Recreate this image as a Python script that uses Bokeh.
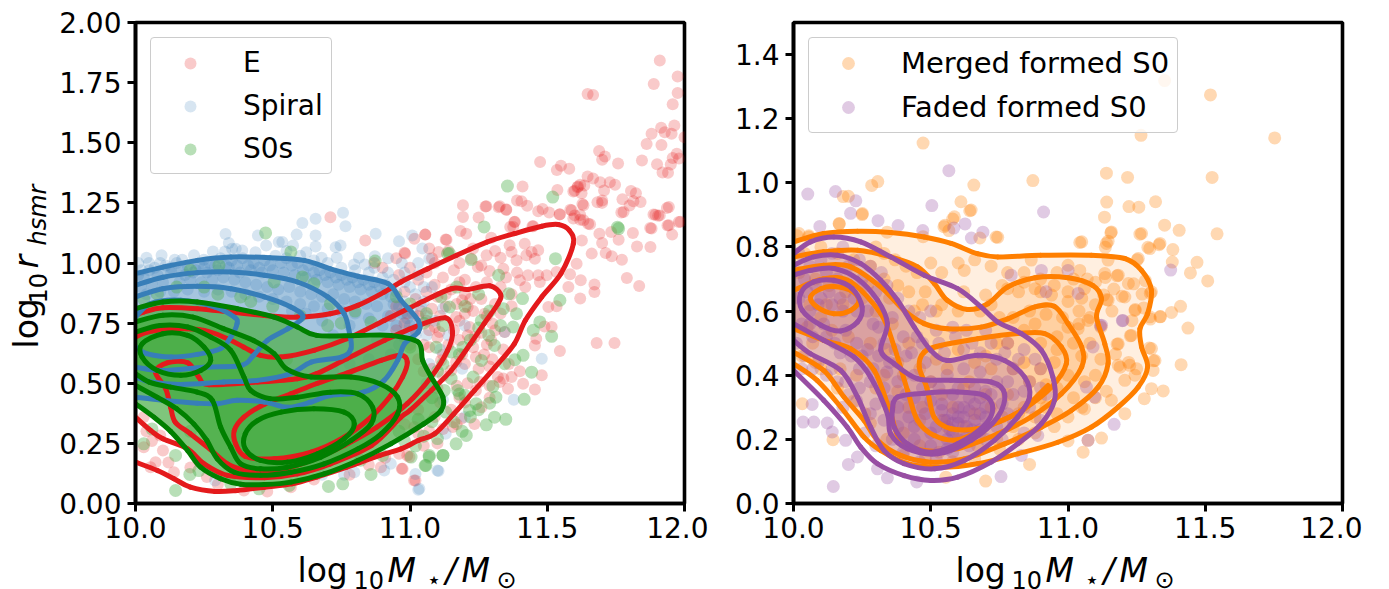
from bokeh.embed import file_html
from bokeh.resources import INLINE
from bokeh.layouts import column, row
from bokeh.models import ColumnDataSource, FixedTicker, Label, Legend, LegendItem, NumeralTickFormatter, Range1d
from bokeh.plotting import figure

E_pts = [(11.91,1.842),(11.975,1.775),(11.888,1.744),(11.975,1.707),(11.647,1.703),(11.667,1.699),(11.957,1.66),(11.963,1.572),(11.915,1.562),(11.88,1.537),(11.928,1.544),(11.953,1.537),(11.862,1.495),(11.916,1.491),(12.0,1.523),(11.689,1.466),(11.71,1.443),(11.70,1.429),(11.758,1.414),(11.845,1.426),(11.9,1.411),(11.972,1.454),(11.957,1.437),(11.98,1.434),(11.95,1.41),(11.92,1.376),(11.94,1.375),(11.474,1.42),(11.55,1.404),(11.535,1.387),(11.58,1.392),(11.647,1.36),(11.667,1.351),(11.693,1.336),(11.728,1.336),(11.747,1.325),(11.707,1.301),(11.41,1.318),(11.537,1.304),(11.61,1.315),(11.62,1.325),(11.60,1.30),(11.612,1.318),(11.625,1.29),(11.595,1.297),(11.635,1.322),(11.805,1.299),(11.823,1.29),(11.774,1.265),(11.814,1.257),(11.84,1.254),(11.80,1.239),(11.683,1.253),(11.70,1.26),(11.628,1.245),(11.936,1.229),(11.77,1.21),(11.275,1.235),(11.323,1.232),(11.35,1.221),(11.39,1.26),(11.406,1.257),(11.427,1.238),(11.467,1.215),(11.483,1.225),(11.507,1.21),(11.545,1.202),(11.584,1.221),(11.62,1.20),(11.595,1.185),(11.62,1.18),(11.649,1.163),(11.38,1.17),(11.365,1.15),(11.446,1.153),(11.887,1.202),(11.904,1.196),(11.938,1.156),(11.979,1.17),(11.875,1.146),
(11.193,1.24),(11.278,1.236),(11.327,1.236),(11.351,1.222),(11.193,1.191),(11.25,1.189),(11.382,1.171),(11.376,1.15),(11.449,1.153),(11.184,1.133),(11.205,1.122),(11.296,1.105),(11.133,1.097),(11.055,1.118),(11.418,1.08),(11.363,1.074),(11.37,1.046),(11.388,1.011),(11.424,1.032),(11.443,1.046),(11.467,1.053),(11.455,1.018),(11.33,1.022),(11.279,1.032),(11.247,.983),(11.29,.967),(11.34,.976),(11.223,1.018),(11.104,1.046),(11.07,1.06),(10.982,1.039),(11.43,.949),(11.4,.928),(11.467,.949),(11.498,.949),(11.473,.921),(11.534,.963),(11.583,.953),(11.607,.997),(11.622,.928),(11.577,.90),(11.672,.911),(11.672,.879),(11.62,.852),(11.504,.817),(11.534,.82),(11.79,.938),(11.835,.904),(11.876,1.067),(11.827,1.069),(11.772,1.014),(11.735,1.028),(11.713,1.042),(11.70,1.083),(11.69,1.122),(11.76,1.097),(11.733,1.129),(11.812,1.125),(11.662,1.039),(11.656,1.161),(11.626,1.094),(11.632,1.178),(11.60,1.198),(11.546,1.203),(11.778,1.212),(11.943,1.233),(11.985,1.171),(11.894,1.201),(11.91,1.198),(11.943,1.157),(11.955,1.118),(11.88,1.143),(11.632,1.24),(11.589,1.219),(11.70,1.25),
(11.68,.667),(11.745,.667),(11.546,.634),(11.516,.734),(11.49,.736),(11.455,.657),(11.46,.685),(11.48,.533),(11.455,.474),(11.412,.498),(11.37,.526),(11.357,.477),(11.296,.678),(11.345,.713),(11.30,.748),(11.272,.789),(11.2,.789),(11.21,.817),(11.168,.775),(11.09,.734),(11.07,.72),(11.107,.713),(11.18,.76),(11.217,.734),(11.235,.692),(11.24,.609),(11.168,.588),(11.15,.553),(11.113,.595),(11.32,.526),(11.327,.505),(11.254,.505),(11.187,.352),(11.156,.318),(11.235,.331),(11.02,.096),(10.973,.144),(10.99,.20),(11.03,.29),(11.19,.845),
(10.055,.151),(10.073,.172),(10.14,.13),(10.03,.234),(10.09,.283),(10.395,.054),(10.566,.068),(10.97,.144),(11.015,.096),(10.894,.151),(11.016,.318),(10.96,.207),(10.998,.193),(10.71,1.19),(10.837,1.094),(10.98,1.043),(11.016,1.101),(11.056,1.118),(11.13,1.098),(10.87,1.0),(10.9,.98),(10.95,1.02),(10.96,.95),(11.0,.98),(11.03,.93),(11.06,.96),(11.09,1.0),(11.12,.94),(11.16,.97),(11.2,.93),(11.24,.90),(11.28,.92),(11.33,.90),(11.37,.87),(11.31,.83),(11.26,.85),(11.2,.87),(11.15,.89),(11.1,.86),(11.06,.88),(11.02,.85),(10.98,.88),(10.95,.82),(10.99,.79),(11.04,.8),(11.08,.81),(11.13,.82),(11.06,.76),(11.1,.69),(11.14,.66),(11.18,.68),(11.02,.72),(11.05,.66),(11.12,.62),(11.2,.58),(11.27,.62),(11.29,.57),(11.21,.5),(11.18,.44),(11.1,.48),(11.15,.39),(11.09,.36),(11.03,.39),(10.98,.33),(11.05,.24),(11.1,.25),(10.91,.19),(10.85,.16),(10.78,.12),(10.65,.1),(10.12,.17),(10.2,.15),(10.26,.11),(10.3,.08),(10.04,.3),(10.06,.26),(10.03,.36),(10.1,.22),(10.48,.05),
(11.08,1.02),(11.14,1.05),(11.18,1.0),(11.23,1.06),(11.26,.99),(11.31,1.05),(11.35,.94),(11.39,.96),(11.42,.9),(11.37,.82),(11.33,.79),(11.28,.78),(11.23,.8),(11.17,.83),(11.11,.78),(11.16,.72),(11.21,.7),(11.26,.71),(11.31,.72),(11.28,.66),(11.23,.65),(11.19,.62),(11.25,.56),(11.3,.6),(11.34,.64),(11.36,.58),(11.4,.55),(11.34,.52),(11.29,.49),(11.24,.47),(11.2,.42),(11.26,.4),(11.29,.44),(11.17,.49),(11.12,.53),(11.08,.56),(11.03,.6),(11.0,.66),(10.95,.72),(10.93,.78),(10.98,.75),(11.03,.78),(11.09,.91),(11.13,.87),(11.18,.92),(11.22,.85),(11.07,.65),(11.05,.55),(11.11,.42),(11.17,.33),(11.12,.31),(11.07,.3)]

Spiral_pts = [(10.04,1.022),(10.095,1.032),(10.049,1.0),(10.143,1.014),(10.17,1.014),(10.213,1.032),(10.249,1.014),(10.282,1.048),(10.328,1.121),(10.34,1.083),(10.352,1.059),(10.365,1.059),(10.326,1.048),(10.389,1.052),(10.437,1.045),(10.446,1.114),(10.476,1.073),(10.522,1.087),(10.535,1.087),(10.587,1.118),(10.608,1.166),(10.656,1.184),(10.756,1.209),(10.765,1.153),(10.656,1.114),(10.574,1.073),(10.656,1.069),(10.622,1.045),(10.729,1.066),(10.747,1.073),(10.733,1.022),(10.678,1.022),(10.814,1.022),(10.796,.994),(10.836,.994),(10.875,1.122),(10.96,1.09),(11.008,1.114),(11.045,1.06),(11.07,1.018),(10.872,1.028),
(10.01,1.0),(10.02,.97),(10.07,.98),(10.11,.99),(10.15,1.0),(10.19,.99),(10.23,.995),(10.27,1.0),(10.31,1.02),(10.35,1.01),(10.39,1.02),(10.43,1.0),(10.47,1.01),(10.51,1.03),(10.55,1.02),(10.59,1.0),(10.63,.99),(10.67,.97),(10.71,.96),(10.75,.95),(10.79,.94),(10.83,.93),(10.87,.92),(10.91,.91),(10.95,.88),(10.98,.84),(11.01,.79),
(10.03,.94),(10.08,.95),(10.13,.96),(10.18,.95),(10.22,.97),(10.26,.96),(10.3,.97),(10.34,.98),(10.38,.96),(10.42,.97),(10.46,.96),(10.5,.97),(10.54,.96),(10.58,.95),(10.62,.94),(10.66,.93),(10.7,.92),(10.74,.91),(10.78,.9),(10.82,.89),(10.86,.88),(10.9,.87),(10.94,.83),(10.97,.79),(11.0,.74),(11.02,.7),
(10.02,.9),(10.06,.91),(10.1,.92),(10.16,.92),(10.2,.93),(10.24,.92),(10.28,.93),(10.32,.94),(10.36,.93),(10.4,.92),(10.44,.91),(10.48,.9),(10.52,.89),(10.56,.9),(10.6,.88),(10.64,.87),(10.68,.86),(10.72,.87),(10.76,.85),(10.8,.84),(10.84,.83),(10.88,.82),(10.92,.78),(10.95,.74),(10.98,.69),(10.96,.66),
(10.04,.87),(10.09,.88),(10.14,.88),(10.19,.89),(10.25,.88),(10.3,.89),(10.35,.88),(10.4,.87),(10.45,.86),(10.5,.85),(10.55,.84),(10.6,.83),(10.65,.82),(10.7,.81),(10.75,.8),(10.8,.79),(10.85,.77),(10.9,.74),(10.88,.68),(10.93,.62),(10.85,.6),(10.78,.58),(10.72,.55),(10.65,.5),(10.58,.48),(10.72,.7),(10.78,.74),(10.68,.76),(10.62,.79),(10.57,.8),
(10.68,.12),(10.76,.12),(10.797,.13),(10.29,.096),(10.906,.137),(10.93,.165),(11.02,.123),(11.034,.061),(11.10,.137),(11.378,.431),(11.104,.135),(11.03,.057),(11.48,.602),(11.345,.713),(11.2,.74),(11.14,.7),(11.09,.76),(11.12,.81),(11.05,.84),(11.08,.9),(11.03,.95),(11.0,.9),(10.98,.96),(11.06,.7),(11.11,.64),(11.07,.58),(11.19,.56),(11.12,.43),(11.2,.36),(11.13,.29),(11.06,.5),
(10.01,.95),(10.05,.97),(10.09,1.0),(10.13,.98),(10.17,.97),(10.21,.96),(10.25,.98),(10.29,.99),(10.33,.99),(10.37,.99),(10.41,.99),(10.45,.98),(10.49,.99),(10.53,1.0),(10.57,.99),(10.61,.97),(10.65,.96),(10.69,.95),(10.73,.94),(10.77,.93),(10.81,.92),(10.85,.91),(10.89,.9),(10.93,.86),(10.96,.82),(10.99,.77),(11.01,.72),(10.55,1.05),(10.6,1.03),(10.65,1.01),(10.7,1.0),(10.75,.98),(10.8,.97),(10.85,.96),(10.9,.94),(10.94,.93),(10.98,.92),(11.02,.87),(11.04,.82),(11.06,.78),(10.92,.96),(10.87,.98),(11.03,1.0),(11.05,.9),(10.97,1.0),(10.92,1.02)]

S0_pts = [(11.27,1.15),(11.76,1.143),(11.53,1.018),(11.546,.845),(11.323,.949),(11.36,.872),(11.41,.852),(11.34,.81),(11.388,.789),(11.376,.734),(11.449,.72),(11.473,.755),(11.516,.695),(11.287,.699),(11.308,.657),(11.412,.616),(11.382,.598),(11.443,.546),(11.345,.581),(11.302,.487),(11.313,.442),(11.29,.417),(11.416,.433),(11.349,.35),(11.278,.327),(11.308,.359),(11.205,.283),(11.168,.248),(11.12,.20),(11.07,.2),(11.055,.158),(11.144,1.039),(11.223,1.014),(11.217,.387),(11.241,.415),(11.174,.47),(11.18,.455),(11.26,.595),(11.23,.526),(11.193,.65),(11.26,.761),(11.144,.817),(11.095,.65),(11.004,.193),
(10.146,.054),(10.198,.121),(10.703,.071),(10.755,.082),(10.858,.121),(11.058,.158),(11.07,.193),(11.12,.20),(10.474,1.125),(10.873,1.008),(10.566,1.046),(10.146,.20),(10.03,.248),(10.06,.31),(10.231,.137),(10.347,.082),(10.45,.061),(10.56,.075),(10.608,.942),(10.505,.921),(10.383,.859),(10.304,.99),(10.2,.97),(10.65,.914),(10.71,.83),(10.858,.754),(11.137,1.039),(11.113,.859),(11.125,.47),(11.355,1.32),(11.52,1.274),(11.756,1.149),
(11.0,.65),(11.05,.75),(11.1,.55),(11.15,.63),(11.08,.44),(11.03,.35),(10.96,.3),(10.9,.2),(10.82,.18),(10.75,.75),(10.8,.8),(10.7,.74),(10.6,.78),(10.5,.82),(10.42,.84),(10.3,.87),(10.25,.9),(10.15,.9),(10.08,.87),(10.03,.85),(10.4,.52),(10.55,.6),(10.7,.5),(10.3,.45),(10.2,.3),(10.6,.3),(10.5,.25),(10.15,.65),(10.05,.6),
(11.13,.38),(11.16,.34),(11.19,.3),(11.22,.36),(11.25,.39),(11.2,.45),(11.15,.52),(11.12,.58),(11.18,.62),(11.22,.68),(11.25,.73),(11.2,.82),(11.17,.9),(11.25,.87),(11.29,.8),(11.33,.74),(11.12,.74),(11.06,.79),(11.0,.83),(10.95,.86),(11.08,.34),(11.05,.28),(11.02,.24),(10.98,.26),(11.1,.27)]

Merged_pts = [(10.472,1.124),(11.266,1.148),(11.14,1.03),(11.217,1.017),(11.525,1.017),(10.872,1.007),(10.657,.993),(10.307,1.004),(10.285,.992),(10.2,.958),(10.181,.957),(11.141,.94),(11.222,.926),(11.258,.924),(11.319,.941),(10.61,.941),(10.642,.913),(10.25,.901),(11.133,.893),(10.58,.887),(10.167,.872),(10.548,.863),(10.566,.851),(11.352,.868),(11.405,.852),(11.543,.841),(11.156,.844),(11.262,.84),(10.744,.83),(10.679,.828),(11.043,.814),(11.146,.818),(11.136,.799),(11.291,.799),(11.332,.807),(11.382,.792),(10.056,.835),(10.013,.835),(10.341,.846),(10.472,.832),
(11.352,1.319),(11.519,1.274),(11.753,1.14),(11.38,.753),(11.47,.752),(11.446,.719),(11.509,.694),(11.252,.76),(11.179,.71),(11.282,.695),(11.239,.685),(11.3,.656),(11.27,.653),(11.197,.646),(11.142,.636),(11.167,.669),(11.136,.705),(11.41,.615),(11.377,.596),(11.337,.583),(11.3,.575),(11.245,.605),(11.233,.57),(11.276,.61),(11.437,.547),(11.227,.523),(11.179,.497),(11.296,.485),(11.173,.466),(11.312,.445),(11.221,.44),(11.412,.433),(11.19,.425),(11.25,.42),
(10.032,.311),(10.144,.199),(10.86,.122),(10.7,.07),(10.555,.082),(11.055,.16),(11.122,.204),(11.073,.197),(11.0,.195),(11.207,.28),(11.06,.295),(11.158,.322),(11.278,.327),(11.347,.351),(11.304,.358),(11.207,.384),(11.244,.40),(11.31,.415),(11.183,.431),(11.225,.431),(11.317,.446),(11.304,.483),(11.183,.498),(11.231,.524),(11.335,.582),(11.298,.582),(11.244,.602),(11.207,.644),(11.146,.634),(11.073,.571),(11.037,.545),(11.183,.712),(11.256,.764),(11.134,.717),(11.22,.686),(11.304,.66),(11.146,.759),(11.05,.816),(11.14,.811),(11.158,.847),(11.268,.842),(11.298,.795),(11.335,.811),(10.866,.759),(11.0,.743),(11.043,.727),(10.622,.727),(10.738,.831),(10.586,.894),(10.552,.868),(10.647,.915),(10.251,.904),(10.166,.873),(10.02,.842),(10.056,.831),
(10.3,.8),(10.33,.78),(10.37,.76),(10.41,.74),(10.45,.72),(10.5,.75),(10.54,.72),(10.6,.75),(10.66,.76),(10.72,.74),(10.78,.72),(10.84,.72),(10.9,.7),(10.96,.72),(11.02,.7),(11.07,.7),(10.82,.66),(10.88,.67),(10.94,.65),(11.0,.66),(11.05,.64),(11.1,.62),(10.86,.6),(10.92,.59),(10.98,.58),(11.04,.56),(11.08,.5),(11.12,.45),(11.02,.5),(10.96,.52),(10.9,.5),(10.95,.44),(11.0,.4),(11.06,.38),(11.02,.33),(10.96,.28),(10.9,.33),(10.86,.38),(10.8,.42),(10.74,.5),(10.7,.46),(10.75,.58),(10.68,.6),(10.6,.6),(10.54,.62),(10.48,.66),(10.44,.6),(10.38,.68),(10.33,.7),(10.28,.74),(10.22,.76),(10.16,.78),(10.1,.8),(10.04,.78),(10.02,.72),(10.08,.7),(10.13,.68),(10.06,.62),(10.12,.62),(10.19,.66),(10.25,.64),(10.3,.6),(10.36,.56),(10.42,.5),(10.34,.48),(10.28,.5),(10.2,.52),(10.14,.54),(10.07,.5),(10.03,.46),(10.1,.42),(10.17,.42),(10.23,.4),(10.3,.36),(10.26,.28),(10.35,.3),(10.4,.22),(10.46,.18),(10.53,.16),(10.6,.2),(10.67,.18),(10.74,.2),(10.8,.24),(10.84,.3),(10.78,.34),(10.7,.34),(10.64,.38),(10.56,.42),(10.5,.38),(10.58,.3),(10.66,.28),(10.62,.24),(10.54,.26),(10.47,.3),(10.4,.4),
(10.78,.67),(10.84,.69),(10.9,.66),(10.95,.68),(11.0,.63),(11.06,.67),(11.1,.69),(11.13,.65),(11.16,.6),(11.12,.55),(11.08,.58),(11.04,.6),(11.0,.55),(10.96,.48),(11.05,.46),(11.1,.4),(11.14,.35),(11.1,.33),(11.05,.3),(11.0,.27),(10.95,.24),(10.88,.22),(10.82,.2),(10.75,.17),(10.66,.14),(10.58,.13),(10.48,.14),(10.4,.15),(10.34,.2),(10.28,.25),(10.22,.32),(10.16,.36),(10.08,.44),(10.05,.55),(10.1,.58),(10.18,.62),(10.27,.68),(10.35,.64),(10.42,.66),(10.47,.62),(10.52,.6),(10.62,.66),(10.7,.65),(10.76,.68),(10.72,.62),(10.8,.58),(10.84,.54),(10.88,.56),(10.78,.5),(10.84,.44),(10.9,.42),(10.92,.37),(10.96,.36),(10.88,.27),(10.92,.3),(10.82,.28),(10.76,.27),(10.72,.3),(10.68,.22),(10.56,.24),(10.46,.26),(10.42,.3),(10.38,.35),(10.33,.4),(10.38,.44),(10.46,.42),(10.52,.45),(10.6,.48),(10.66,.44),(10.72,.42),(10.62,.36),(10.54,.34)]

Faded_pts = [(10.566,1.038),(10.052,.965),(10.153,.973),(10.227,.944),(10.208,.905),(10.504,.929),(10.911,.909),(10.308,.882),(10.096,.864),(10.381,.867),(10.471,.851),(10.584,.859),(10.625,.872),(10.69,.846),(10.648,.828),(11.374,.728),(11.198,.57),(11.118,.555),
(10.145,.053),(10.756,.084),(10.2,.122),(10.233,.145),(10.19,.197),(10.141,.223),(10.123,.251),(10.074,.254),(10.035,.254),(10.068,.309),(10.306,.108),(10.342,.08),(10.449,.067),(10.83,.15),(10.89,.212),(11.073,.197),(11.168,.247),(11.097,.332),(11.067,.363),(11.091,.488),(11.122,.556),(11.2,.571),(10.793,.712),(10.903,.727),(11.0,.727),(11.037,.655),(10.92,.66),
(10.56,.26),(10.58,.28),(10.6,.25),(10.62,.27),(10.64,.29),(10.66,.26),(10.68,.28),(10.6,.3),(10.63,.24),(10.66,.31),(10.57,.23),(10.7,.27),(10.54,.29),(10.65,.23),(10.6,.27),(10.62,.3),(10.58,.25),(10.7,.3),
(10.02,.78),(10.06,.74),(10.1,.76),(10.14,.78),(10.18,.8),(10.24,.76),(10.28,.74),(10.32,.72),(10.04,.7),(10.08,.68),(10.12,.72),(10.16,.7),(10.2,.74),(10.25,.7),(10.3,.66),(10.34,.68),(10.38,.64),(10.42,.6),(10.46,.58),(10.5,.6),(10.02,.64),(10.06,.6),(10.1,.64),(10.14,.62),(10.18,.6),(10.22,.64),(10.27,.6),(10.31,.55),(10.36,.58),(10.4,.52),(10.45,.52),(10.52,.54),(10.58,.55),(10.63,.54),(10.7,.54),(10.78,.5),(10.84,.48),(10.9,.42),(10.03,.56),(10.07,.52),(10.11,.56),(10.15,.5),(10.19,.54),(10.23,.5),(10.27,.48),(10.31,.46),(10.35,.44),(10.41,.46),(10.48,.44),(10.55,.47),(10.62,.48),(10.68,.47),(10.74,.45),(10.8,.42),(10.86,.38),(10.92,.34),(10.04,.46),(10.09,.44),(10.14,.42),(10.19,.38),(10.24,.42),(10.28,.38),(10.33,.36),(10.38,.38),(10.44,.4),(10.5,.38),(10.56,.4),(10.62,.42),(10.68,.41),(10.74,.38),(10.8,.34),(10.86,.3),(10.9,.26),(10.18,.3),(10.23,.32),(10.28,.28),(10.33,.26),(10.38,.3),(10.44,.33),(10.5,.32),(10.7,.35),(10.76,.31),(10.8,.26),(10.84,.22),(10.76,.2),(10.7,.2),(10.64,.18),(10.58,.16),(10.52,.14),(10.46,.13),(10.4,.16),(10.36,.2),(10.3,.18),(10.26,.22),(10.44,.24),(10.5,.22),(10.56,.2),
(10.05,.66),(10.09,.62),(10.13,.66),(10.17,.64),(10.2,.68),(10.23,.6),(10.29,.56),(10.33,.5),(10.37,.48),(10.43,.47),(10.47,.5),(10.53,.5),(10.59,.52),(10.65,.5),(10.72,.5),(10.77,.47),(10.82,.45),(10.88,.45),(10.9,.36),(10.84,.35),(10.78,.38),(10.72,.34),(10.66,.36),(10.6,.36),(10.53,.36),(10.47,.36),(10.41,.34),(10.35,.32),(10.3,.31),(10.24,.36),(10.2,.34),(10.16,.38),(10.12,.4),(10.07,.42),(10.03,.42),(10.01,.5),(10.06,.56),(10.12,.52),(10.17,.47),(10.21,.46),(10.25,.46),(10.29,.42),(10.34,.41),(10.58,.34),(10.64,.33),(10.68,.33),(10.54,.31),(10.48,.28),(10.42,.27),(10.38,.24),(10.44,.2),(10.5,.18),(10.56,.17),(10.62,.2),(10.68,.23),(10.74,.24),(10.78,.28),(10.58,.22),(10.55,.26),(10.52,.24)]

E_c1 = [(10.0,.172),(10.08,.137),(10.14,.103),(10.20,.068),(10.29,.05),(10.37,.054),(10.47,.068),(10.57,.082),(10.66,.11),(10.77,.151),(10.89,.20),(10.967,.227),(11.03,.262),(11.09,.29),(11.16,.373),(11.235,.47),(11.31,.567),(11.38,.664),(11.42,.761),(11.48,.859),(11.55,.956),(11.595,1.08),(11.58,1.136),(11.54,1.16),(11.48,1.153),(11.38,1.122),(11.28,1.087),(11.17,1.032),(11.065,.976),(10.967,.921),(10.906,.879),(10.81,.824),(10.71,.789),(10.59,.775),(10.47,.782),(10.347,.796),(10.225,.81),(10.10,.814),(10.03,.796),(10.0,.782)]
E_c2 = [(10.0,.359),(10.055,.304),(10.10,.269),(10.19,.227),(10.25,.165),(10.335,.117),(10.47,.107),(10.59,.123),(10.71,.165),(10.86,.241),(10.967,.359),(11.00,.387),(11.077,.47),(11.15,.553),(11.22,.664),(11.27,.748),(11.32,.83),(11.33,.87),(11.29,.905),(11.21,.89),(11.15,.893),(11.03,.831),(10.906,.761),(10.77,.685),(10.65,.637),(10.53,.609),(10.456,.616),(10.395,.65),(10.335,.685),(10.25,.72),(10.13,.727),(10.043,.713),(10.0,.692)]
E_c3 = [(11.13,.772),(11.03,.74),(10.906,.678),(10.77,.602),(10.66,.54),(10.59,.519),(10.444,.505),(10.268,.494),(10.23,.526),(10.19,.585),(10.115,.585),(10.073,.546),(10.11,.477),(10.128,.40),(10.145,.338),(10.2,.29),(10.27,.227),(10.335,.165),(10.41,.137),(10.517,.137),(10.64,.179),(10.76,.241),(10.88,.318),(10.99,.415),(11.077,.526),(11.137,.637),(11.155,.713),(11.13,.772)]
E_c4 = [(10.967,.616),(10.99,.588),(10.973,.526),(10.93,.449),(10.858,.359),(10.76,.276),(10.64,.214),(10.505,.186),(10.40,.196),(10.365,.248),(10.36,.304),(10.395,.359),(10.468,.412),(10.566,.456),(10.663,.50),(10.77,.542),(10.895,.595),(10.967,.616)]
Spiral_c1 = [(10.0,.956),(10.10,.983),(10.225,1.011),(10.347,1.025),(10.49,1.022),(10.615,1.011),(10.71,.976),(10.81,.945),(10.92,.914),(10.967,.845),(11.03,.761),(11.03,.713),(10.98,.664),(10.955,.595),(10.906,.512),(10.83,.463),(10.71,.449),(10.64,.422),(10.555,.40),(10.47,.422),(10.37,.429),(10.30,.415),(10.225,.417),(10.10,.429),(10.0,.442)]
Spiral_c2 = [(10.0,.907),(10.10,.941),(10.225,.96),(10.347,.963),(10.47,.949),(10.59,.921),(10.70,.859),(10.76,.789),(10.78,.706),(10.785,.644),(10.75,.609),(10.64,.588),(10.566,.54),(10.444,.512),(10.32,.505),(10.165,.495),(10.055,.505),(10.0,.526)]
Spiral_c3 = [(10.0,.859),(10.10,.893),(10.225,.903),(10.347,.893),(10.47,.859),(10.566,.817),(10.61,.775),(10.555,.727),(10.48,.678),(10.43,.616),(10.385,.574),(10.25,.567),(10.10,.553),(10.0,.567)]
Spiral_c4 = [(10.0,.775),(10.055,.831),(10.165,.845),(10.29,.817),(10.36,.775),(10.37,.748),(10.347,.692),(10.31,.644),(10.225,.62),(10.13,.609),(10.04,.623),(10.0,.65)]
S0_c1 = [(10.0,.81),(10.10,.838),(10.225,.838),(10.37,.81),(10.505,.775),(10.59,.734),(10.66,.699),(10.81,.699),(10.93,.699),(11.03,.671),(11.046,.595),(11.077,.526),(11.12,.442),(11.113,.387),(11.05,.331),(10.93,.248),(10.81,.179),(10.687,.123),(10.566,.089),(10.47,.079),(10.383,.08),(10.31,.103),(10.237,.151),(10.19,.22),(10.128,.30),(10.067,.359),(10.0,.415)]
S0_c2 = [(10.0,.755),(10.10,.783),(10.21,.775),(10.32,.727),(10.43,.678),(10.505,.623),(10.55,.56),(10.64,.526),(10.785,.526),(10.89,.498),(10.955,.442),(10.955,.373),(10.895,.29),(10.81,.227),(10.687,.165),(10.566,.13),(10.456,.117),(10.36,.13),(10.298,.186),(10.26,.262),(10.213,.33),(10.15,.394),(10.08,.441),(10.0,.491)]
S0_c3 = [(10.0,.713),(10.09,.74),(10.19,.734),(10.274,.692),(10.347,.637),(10.395,.526),(10.42,.47),(10.49,.436),(10.59,.442),(10.71,.463),(10.81,.456),(10.864,.40),(10.858,.331),(10.785,.262),(10.675,.193),(10.553,.151),(10.456,.144),(10.383,.165),(10.347,.234),(10.31,.318),(10.28,.429),(10.225,.463),(10.128,.484),(10.05,.505),(10.0,.54)]
S0_c4 = [(10.40,.29),(10.444,.345),(10.53,.38),(10.65,.394),(10.76,.38),(10.797,.331),(10.76,.269),(10.663,.207),(10.553,.172),(10.456,.179),(10.40,.227),(10.40,.29)]
S0_c5 = [(10.10,.706),(10.19,.699),(10.25,.65),(10.274,.595),(10.237,.553),(10.165,.533),(10.08,.553),(10.024,.609),(10.024,.664),(10.10,.706)]
Merged_c1 = [(10.0,.816),(10.11,.842),(10.233,.849),(10.354,.845),(10.476,.831),(10.574,.811),(10.67,.779),(10.744,.769),(10.90,.774),(11.085,.774),(11.207,.764),(11.268,.727),(11.304,.665),(11.29,.592),(11.262,.545),(11.268,.488),(11.29,.426),(11.256,.363),(11.183,.301),(11.085,.238),(10.963,.191),(10.817,.155),(10.67,.124),(10.537,.113),(10.415,.124),(10.318,.165),(10.257,.207),(10.172,.301),(10.086,.384),(10.0,.436)]
Merged_c2 = [(10.0,.769),(10.11,.785),(10.233,.79),(10.354,.769),(10.452,.738),(10.513,.686),(10.56,.634),(10.634,.605),(10.708,.623),(10.78,.675),(10.88,.704),(11.0,.704),(11.09,.68),(11.122,.639),(11.104,.582),(11.134,.498),(11.146,.436),(11.11,.363),(11.012,.29),(10.903,.238),(10.769,.186),(10.622,.139),(10.5,.129),(10.39,.15),(10.306,.197),(10.257,.259),(10.184,.332),(10.11,.415),(10.0,.472)]
Merged_c3 = [(10.0,.727),(10.11,.743),(10.208,.738),(10.318,.675),(10.403,.602),(10.476,.561),(10.56,.545),(10.683,.55),(10.78,.576),(10.88,.613),(10.95,.615),(11.0,.561),(11.05,.488),(11.05,.426),(10.976,.342),(10.866,.27),(10.744,.217),(10.6,.171),(10.476,.165),(10.39,.197),(10.354,.28),(10.294,.415),(10.208,.483),(10.11,.509),(10.0,.545)]
Merged_c4 = [(10.0,.665),(10.11,.701),(10.208,.691),(10.318,.592),(10.367,.488),(10.415,.353),(10.452,.259),(10.513,.212),(10.6,.199),(10.72,.245),(10.83,.29),(10.927,.368)]
Merged_c5 = [(10.458,.426),(10.476,.472),(10.537,.493),(10.671,.514),(10.817,.53),(10.915,.53),(10.976,.488),(10.994,.436),(10.94,.363),(10.842,.296),(10.75,.255),(10.671,.233),(10.574,.233),(10.513,.268),(10.486,.36),(10.458,.426)]
Merged_c6 = [(10.062,.644),(10.1,.67),(10.147,.677),(10.208,.665),(10.239,.634),(10.208,.602),(10.147,.592),(10.086,.613),(10.062,.644)]
Faded_c1 = [(10.0,.779),(10.062,.816),(10.147,.831),(10.245,.816),(10.354,.769),(10.476,.712),(10.598,.67),(10.683,.613),(10.744,.566),(10.83,.53),(10.903,.478),(10.945,.394),(10.951,.322),(10.903,.249),(10.817,.186),(10.72,.129),(10.598,.082),(10.5,.072),(10.403,.087),(10.306,.124),(10.245,.176),(10.196,.238),(10.11,.322),(10.0,.415)]
Faded_c2 = [(10.0,.743),(10.074,.769),(10.16,.774),(10.245,.748),(10.318,.696),(10.379,.634),(10.44,.55),(10.5,.478),(10.56,.446),(10.671,.462),(10.769,.446),(10.842,.394),(10.86,.332),(10.817,.27),(10.732,.197),(10.622,.134),(10.513,.108),(10.403,.124),(10.33,.165),(10.281,.238),(10.233,.332),(10.172,.415),(10.062,.467),(10.0,.509)]
Faded_c3 = [(10.0,.712),(10.062,.727),(10.147,.733),(10.233,.701),(10.306,.634),(10.342,.561),(10.318,.478),(10.367,.436),(10.452,.389),(10.574,.384),(10.72,.379),(10.769,.342),(10.744,.27),(10.647,.197),(10.525,.155),(10.415,.171),(10.354,.217),(10.342,.28),(10.281,.394),(10.22,.457),(10.11,.509),(10.0,.561)]
Faded_c4 = [(10.36,.29),(10.379,.332),(10.476,.344),(10.598,.348),(10.695,.337),(10.726,.296),(10.695,.243),(10.598,.186),(10.5,.16),(10.415,.186),(10.367,.238),(10.36,.29)]
Faded_c5 = [(10.026,.655),(10.074,.691),(10.147,.696),(10.214,.67),(10.25,.613),(10.233,.566),(10.172,.538),(10.1,.556),(10.032,.602),(10.026,.655)]

x_ticks = [10.0, 10.5, 11.0, 11.5, 12.0]
left_y_ticks = [0.0, 0.25, 0.5, 0.75, 1.0, 1.25, 1.5, 1.75, 2.0]
right_y_ticks = [0.0, 0.2, 0.4, 0.6, 0.8, 1.0, 1.2, 1.4]

RED, BLUE, GREEN, DGREEN, ORANGE, PURPLE = "#e41a1c", "#377eb8", "#4daf4a", "#008000", "#ff7f00", "#984ea3"
FRAME_W, FRAME_H = 549, 481
LW = 5
FONT = "DejaVu Sans"
PANEL_H = 550      # main panels: page rows 0..550
LABEL_H = 39       # label strips under the panels
YLAB_W = 54        # strip left of the first panel
LEFT_FRAME, RIGHT_FRAME = 135, 793


def xs(c):
    return [a for a, _ in c]


def ys(c):
    return [b for _, b in c]


def make_fig(ymax, yticks, yfmt, left, width):
    p = figure(width=width, height=PANEL_H, output_backend="svg", toolbar_location=None,
               x_range=Range1d(10, 12), y_range=Range1d(0, ymax),
               min_border_left=left, min_border_right=width - left - FRAME_W,
               min_border_top=22, min_border_bottom=PANEL_H - 22 - FRAME_H)
    p.grid.visible = False
    p.outline_line_color = "black"
    p.outline_line_width = 3.6
    for ax, ticks, fmt, standoff in ((p.xaxis[0], x_ticks, "0.0", 5), (p.yaxis[0], yticks, yfmt, 6)):
        ax.ticker = FixedTicker(ticks=ticks)
        ax.formatter = NumeralTickFormatter(format=fmt)
        ax.axis_line_color = "black"
        ax.axis_line_width = 3.6
        ax.major_tick_line_color = "black"
        ax.major_tick_line_width = 3
        ax.major_tick_in = 0
        ax.major_tick_out = 8
        ax.minor_tick_line_color = None
        ax.major_label_text_font = FONT
        ax.major_label_text_font_size = "28px"
        ax.major_label_text_color = "black"
        ax.major_label_standoff = standoff
    return p


def dots(p, pts, color, alpha, size):
    src = ColumnDataSource(dict(x=xs(pts), y=ys(pts)))
    return p.scatter("x", "y", source=src, size=size, fill_color=color, fill_alpha=alpha, line_color=None)


def contour(p, c, color):
    # a smooth curve through the read contour points, drawn with Bokeh's Bezier glyph
    closed = c[0] == c[-1]
    pts = c[:-1] if closed else c
    m = len(pts)

    def at(i):
        return pts[i % m] if closed else pts[max(0, min(m - 1, i))]

    cols = dict(x0=[], y0=[], x1=[], y1=[], cx0=[], cy0=[], cx1=[], cy1=[])
    for i in range(m if closed else m - 1):
        a, b, d, e = at(i - 1), at(i), at(i + 1), at(i + 2)
        cols["x0"].append(b[0]); cols["y0"].append(b[1])
        cols["x1"].append(d[0]); cols["y1"].append(d[1])
        cols["cx0"].append(b[0] + (d[0] - a[0]) / 6); cols["cy0"].append(b[1] + (d[1] - a[1]) / 6)
        cols["cx1"].append(d[0] - (e[0] - b[0]) / 6); cols["cy1"].append(d[1] - (e[1] - b[1]) / 6)
    p.bezier("x0", "y0", "x1", "y1", "cx0", "cy0", "cx1", "cy1", source=ColumnDataSource(cols),
             line_color=color, line_width=LW, line_cap="round")


def shade(p, c, color, alpha):
    p.patch(xs(c), ys(c), fill_color=color, fill_alpha=alpha, line_color=None)


def legend(p, entries, font_px, glyph_h):
    lg = Legend(items=[LegendItem(label=t, renderers=[r]) for t, r in entries], location="top_left",
                margin=15, padding=8, spacing=10, glyph_width=62, glyph_height=glyph_h, label_standoff=22,
                label_height=30, label_text_font=FONT, label_text_font_size=f"{font_px}px",
                label_text_color="black", background_fill_color="white", background_fill_alpha=0.8,
                border_line_color="#cccccc", border_line_width=1.6, border_line_alpha=1)
    if "border_radius" in Legend.properties():
        lg.border_radius = 4
    p.add_layout(lg)


def strip(width, height, x_start, x_end):
    # an empty figure for label pieces; its data units are page pixels, y downward
    s = figure(width=width, height=height, output_backend="svg", toolbar_location=None,
               x_range=Range1d(x_start, x_end), y_range=Range1d(height, 0),
               x_axis_location=None, y_axis_location=None,
               min_border=0, min_border_left=0, min_border_right=0, min_border_top=0, min_border_bottom=0)
    s.grid.visible = False
    s.outline_line_color = None
    return s


def text(p, x, y, s, size, italic=False, angle=0):
    p.add_layout(Label(x=x, y=y, text=s, text_font=FONT, text_font_size=f"{size}px", text_color="black",
                       text_font_style="italic" if italic else "normal", text_baseline="alphabetic",
                       text_align="left", angle=angle, angle_units="deg"))


# Label's alphabetic baseline lands about 0.37 em past the asked position
BIG_FIX, SUB_FIX = 12, 9


def x_label(s, shift):
    base, sub = 582 - PANEL_H - BIG_FIX, 588 - PANEL_H - SUB_FIX
    text(s, 297 + shift, base, "log", 33)
    text(s, 353 + shift, sub, "10", 24)
    text(s, 387 + shift, base, "M", 33, italic=True)
    text(s, 426 + shift, sub, "\u22c6", 24)
    text(s, 445 + shift, base, "/", 33, italic=True)
    text(s, 461 + shift, base, "M", 33, italic=True)
    text(s, 496 + shift, sub, "\u2299", 24)


# left panel
pl = make_fig(2.0, left_y_ticks, "0.00", LEFT_FRAME - YLAB_W, 708 - YLAB_W)
shade(pl, Spiral_c1, BLUE, 0.45)
r_e = dots(pl, E_pts, RED, 0.23, 12)
r_s = dots(pl, Spiral_pts, BLUE, 0.2, 12)
r_g = dots(pl, S0_pts, GREEN, 0.4, 13)
shade(pl, S0_c1, GREEN, 0.72)
shade(pl, S0_c2, GREEN, 0.85)
shade(pl, S0_c3, GREEN, 1)
shade(pl, S0_c5, GREEN, 1)
for c in (E_c1, E_c2, E_c3, E_c4):
    contour(pl, c, RED)
for c in (Spiral_c1, Spiral_c2, Spiral_c3, Spiral_c4):
    contour(pl, c, BLUE)
for c in (S0_c1, S0_c2, S0_c3, S0_c4, S0_c5):
    contour(pl, c, DGREEN)
legend(pl, [("E", r_e), ("Spiral", r_s), ("S0s", r_g)], 28, 30)

# right panel
pr = make_fig(1.5, right_y_ticks, "0.0", RIGHT_FRAME - 708, 654)
shade(pr, Merged_c1, ORANGE, 0.12)
shade(pr, Merged_c2, ORANGE, 0.15)
shade(pr, Merged_c3, ORANGE, 0.15)
r_m = dots(pr, Merged_pts, ORANGE, 0.3, 13)
shade(pr, Faded_c2, PURPLE, 0.25)
shade(pr, Faded_c3, PURPLE, 0.15)
r_f = dots(pr, Faded_pts, PURPLE, 0.3, 13)
shade(pr, Faded_c4, PURPLE, 0.25)
for c in (Merged_c1, Merged_c2, Merged_c3, Merged_c4, Merged_c5, Merged_c6):
    contour(pr, c, ORANGE)
for c in (Faded_c1, Faded_c2, Faded_c3, Faded_c4, Faded_c5):
    contour(pr, c, PURPLE)
legend(pr, [("Merged formed S0", r_m), ("Faded formed S0", r_f)], 29, 32)

# axis labels, composed piece by piece like the reference's math text
y_strip = strip(YLAB_W, PANEL_H + LABEL_H, 0, YLAB_W)
text(y_strip, 38 - BIG_FIX, 348, "log", 33, angle=90)
text(y_strip, 46 - SUB_FIX, 303, "10", 24, angle=90)
text(y_strip, 38 - BIG_FIX, 268, "r", 33, italic=True, angle=90)
text(y_strip, 46 - SUB_FIX, 245, "hsmr", 24, italic=True, angle=90)
# a column lines its figures' frames up, so these strips' frames sit under the panel frames
x_strip_l = strip(708 - YLAB_W, LABEL_H, LEFT_FRAME, LEFT_FRAME + FRAME_W)
x_label(x_strip_l, 0)
x_strip_r = strip(654, LABEL_H, RIGHT_FRAME, RIGHT_FRAME + FRAME_W)
x_label(x_strip_r, 658)

layout = row(y_strip, column(pl, x_strip_l), column(pr, x_strip_r))
open("out.html", "w").write(file_html(layout, INLINE))
